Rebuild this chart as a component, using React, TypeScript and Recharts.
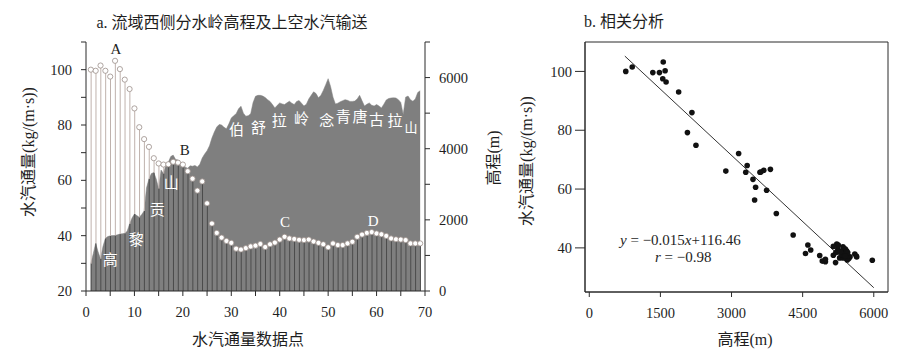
import React from "react";
import {
  Area,
  Bar,
  ComposedChart,
  ReferenceArea,
  ReferenceDot,
  ReferenceLine,
  Scatter,
  ScatterChart,
  XAxis,
  YAxis,
} from "recharts";

const FONT = '"Liberation Serif", "Noto Sans CJK SC", serif';
const AXIS_COLOR = "#2b2b2b";
const TEXT_COLOR = "#1e1e1e";
const AREA_COLOR = "#7f7f7f";
const STEM_LIGHT = "#bfb2ad";
const STEM_DARK = "#4b4b4b";
const DOT_EDGE = "#9a8e89";
const RIDGE_TEXT = "#ffffff";

// panel a: vapour flux at data points 1..69, kg/(m·s)
const vapour = [
  100, 99.6, 101.5, 99.6, 97.5, 103.2, 100.2, 96.4, 93, 86,
  79.2, 74.9, 72.1, 68, 66.1, 65.7, 65.8, 66.7, 66.4, 65.7,
  63.3, 60.6, 56.3, 59.6, 51.7, 44.4, 41, 39.3, 38.1, 37.4,
  35.3, 35, 35.5, 36.1, 36.4, 37, 35.9, 36.9, 37.5, 38.6,
  39.6, 39, 38.8, 38.5, 38.4, 38.6, 37.9, 37.4, 36.9, 35.8,
  37.2, 36.6, 36.6, 37.2, 37.8, 39.6, 40.4, 41, 41.3, 40.8,
  40.5, 39.9, 39, 38.7, 38.6, 38.4, 37.2, 37.2, 37.2,
];

// ridge elevation (m), one value every half data point from 1 to 69
const elevation = [
  770, 1050, 1340, 1100, 906, 1250, 1480, 1530, 1550, 1560,
  1560, 1580, 1600, 1610, 1620, 1680, 1885, 2050, 2165, 2120,
  2070, 2150, 2250, 2900, 3150, 3300, 3330, 3150, 2880, 3400,
  3300, 3550, 3620, 3780, 3820, 3700, 3680, 3580, 3600, 3480,
  3453, 3520, 3508, 3530, 3487, 3560, 3740, 3850, 3945, 4080,
  4300, 4470, 4610, 4680, 4670, 4600, 4560, 4700, 4860, 4930,
  4980, 5120, 5194, 5000, 4914, 4930, 4980, 5300, 5474, 5500,
  5500, 5480, 5440, 5380, 5330, 5240, 5147, 5220, 5287, 5260,
  5241, 5290, 5334, 5280, 5241, 5330, 5353, 5280, 5200, 5250,
  5400, 5500, 5600, 5550, 5430, 5500, 5640, 5800, 5969, 5750,
  5450, 5260, 5280, 5320, 5350, 5380, 5360, 5330, 5330, 5340,
  5400, 5500, 5350, 5200, 5250, 5287, 5220, 5200, 5241, 5200,
  5147, 5250, 5370, 5410, 5426, 5430, 5426, 5380, 5300, 4962,
  5450, 5480, 5380, 5334, 5400, 5580, 5633,
];

const xTicksA = [0, 5, 10, 15, 20, 25, 30, 35, 40, 45, 50, 55, 60, 65, 70];
const leftTicks = [20, 30, 40, 50, 60, 70, 80, 90, 100, 110];
const rightTicks = [0, 1000, 2000, 3000, 4000, 5000, 6000, 7000];
const xTicksB = [0, 1500, 3000, 4500, 6000];
const yTicksB = [40, 60, 80, 100];

const LEFT_MIN = 20;
const LEFT_MAX = 110;
const RIGHT_MAX = 7000;

// point labels (data coords of panel a)
const pointLabels = [
  { text: "A", x: 6.2, y: 107.7, color: TEXT_COLOR },
  { text: "B", x: 20.4, y: 71.2, color: TEXT_COLOR },
  { text: "C", x: 41.1, y: 44.9, color: "#ffffff" },
  { text: "D", x: 59.3, y: 45.5, color: "#ffffff" },
];

const ridgeLabels = [
  { text: "高", x: 5, y: 31.4, size: 15 },
  { text: "黎", x: 10.4, y: 38.6, size: 15 },
  { text: "贡", x: 14.7, y: 49.5, size: 15 },
  { text: "山", x: 17.6, y: 59.2, size: 15 },
  { text: "伯", x: 31.1, y: 78.3, size: 15 },
  { text: "舒", x: 35.6, y: 79.1, size: 15 },
  { text: "拉", x: 39.9, y: 81.4, size: 15 },
  { text: "岭", x: 44.5, y: 82.3, size: 15 },
  { text: "念", x: 49.7, y: 81.7, size: 15 },
  { text: "青", x: 53.1, y: 82.9, size: 15 },
  { text: "唐", x: 56.6, y: 82.9, size: 15 },
  { text: "古", x: 60.0, y: 81.9, size: 15 },
  { text: "拉", x: 63.8, y: 81.4, size: 15 },
  { text: "山", x: 67.1, y: 79.1, size: 13 },
];

// linear fit shown in panel b
const SLOPE = -0.015;
const INTERCEPT = 116.46;
const FIT_FROM = 750;
const FIT_TO = 6000;

const profile = elevation.map((e, k) => {
  const row: any = { x: 1 + k / 2, elev: e };
  if (k % 2 === 0) {
    const v = vapour[k / 2];
    const elevOnLeft = LEFT_MIN + (e / RIGHT_MAX) * (LEFT_MAX - LEFT_MIN);
    row.vapour = v;
    row.split = Math.min(v, elevOnLeft);
  }
  return row;
});
const vapourPts = profile.filter((r) => r.vapour !== undefined);
const scatterPts = vapourPts.map((r) => ({ elev: r.elev, vapour: r.vapour }));

const tickStyle = { fontSize: 14.5, fill: TEXT_COLOR, fontFamily: FONT };

// stem: dark inside the ridge area, light above it
const Stem = (props: any) => {
  const { x, y, width, height, payload } = props;
  if (!payload || payload.vapour === undefined) return null;
  if (!Number.isFinite(y) || !Number.isFinite(height)) return null;
  const cx = x + width / 2;
  const bottom = y + height;
  const frac = (payload.split - LEFT_MIN) / (payload.vapour - LEFT_MIN);
  const mid = bottom - frac * height;
  return (
    <g>
      <line x1={cx} x2={cx} y1={bottom} y2={mid} stroke={STEM_DARK} strokeWidth={1} />
      <line x1={cx} x2={cx} y1={mid} y2={y} stroke={STEM_LIGHT} strokeWidth={1} />
    </g>
  );
};

const OpenDot = (p: any) => (
  <circle cx={p.cx} cy={p.cy} r={2.6} fill="#ffffff" stroke={DOT_EDGE} strokeWidth={0.8} />
);

const SolidDot = (p: any) => <circle cx={p.cx} cy={p.cy} r={2.8} fill="#111111" />;

const Txt = ({ x, y, rot, size = 16, left, children }: any) => (
  <div
    style={{
      position: "absolute",
      left: x,
      top: y,
      transform: `translate(${left ? "0" : "-50%"},-50%)${rot ? " rotate(-90deg)" : ""}`,
      whiteSpace: "nowrap",
      fontSize: size,
      lineHeight: 1,
      color: TEXT_COLOR,
    }}
  >
    {children}
  </div>
);

export default function App() {
  return (
    <div
      style={{
        position: "absolute",
        left: 0,
        top: 0,
        width: 920,
        height: 358,
        background: "#fff",
        fontFamily: FONT,
        overflow: "hidden",
      }}
    >
      <div style={{ position: "absolute", left: 0, top: 0 }}>
        <ComposedChart
          width={920}
          height={358}
          data={profile}
          style={{ fontFamily: FONT }}
          margin={{ top: 42, right: 435, bottom: 37, left: 36 }}
        >
          <XAxis
            dataKey="x"
            type="number"
            domain={[0, 70]}
            ticks={xTicksA}
            interval={0}
            tickFormatter={(v: number) => (v % 10 === 0 ? String(v) : "")}
            tick={tickStyle}
            tickSize={5}
            tickMargin={11}
            height={30}
            axisLine={{ stroke: AXIS_COLOR }}
            tickLine={{ stroke: AXIS_COLOR }}
          />
          <YAxis
            yAxisId="left"
            type="number"
            domain={[LEFT_MIN, LEFT_MAX]}
            ticks={leftTicks}
            interval={0}
            tickFormatter={(v: number) => (v % 20 === 0 ? String(v) : "")}
            tick={tickStyle}
            tickSize={5}
            tickMargin={9}
            width={50}
            axisLine={{ stroke: AXIS_COLOR }}
            tickLine={{ stroke: AXIS_COLOR }}
          />
          <YAxis
            yAxisId="right"
            orientation="right"
            type="number"
            domain={[0, RIGHT_MAX]}
            ticks={rightTicks}
            interval={0}
            tickFormatter={(v: number) => (v % 2000 === 0 ? String(v) : "")}
            tick={{ ...tickStyle, textAnchor: "start" }}
            tickSize={5}
            tickMargin={9}
            width={60}
            axisLine={{ stroke: AXIS_COLOR }}
            tickLine={{ stroke: AXIS_COLOR }}
          />
          <Area
            yAxisId="right"
            dataKey="elev"
            type="linear"
            fill={AREA_COLOR}
            fillOpacity={1}
            stroke={AREA_COLOR}
            strokeWidth={0.5}
            isAnimationActive={false}
          />
          <Bar
            yAxisId="left"
            dataKey="vapour"
            barSize={1}
            shape={<Stem />}
            isAnimationActive={false}
          />
          <Scatter
            yAxisId="left"
            data={vapourPts}
            dataKey="vapour"
            shape={<OpenDot />}
            isAnimationActive={false}
          />
          {pointLabels.map((l) => (
            <ReferenceDot
              key={l.text}
              yAxisId="left"
              x={l.x}
              y={l.y}
              r={1}
              fill="none"
              stroke="none"
              label={{
                value: l.text,
                position: "center",
                fill: l.color,
                fontSize: 15,
                fontFamily: FONT,
              }}
            />
          ))}
          {ridgeLabels.map((l, i) => (
            <ReferenceDot
              key={`ridge-${i}`}
              yAxisId="left"
              x={l.x}
              y={l.y}
              r={1}
              fill="none"
              stroke="none"
              label={{
                value: l.text,
                position: "center",
                fill: RIDGE_TEXT,
                fontSize: l.size,
                fontFamily: FONT,
              }}
            />
          ))}
        </ComposedChart>
      </div>

      <div style={{ position: "absolute", left: 0, top: 0 }}>
        <ScatterChart
          width={920}
          height={358}
          style={{ fontFamily: FONT }}
          margin={{ top: 42, right: 32, bottom: 36, left: 540 }}
        >
          <XAxis
            dataKey="elev"
            type="number"
            domain={[-90, 6300]}
            ticks={xTicksB}
            interval={0}
            tick={tickStyle}
            tickSize={5}
            tickMargin={11}
            height={30}
            axisLine={{ stroke: AXIS_COLOR }}
            tickLine={{ stroke: AXIS_COLOR }}
          />
          <YAxis
            dataKey="vapour"
            type="number"
            domain={[25, 110]}
            ticks={yTicksB}
            interval={0}
            tick={tickStyle}
            tickSize={10}
            tickMargin={3}
            width={45}
            axisLine={{ stroke: AXIS_COLOR }}
            tickLine={{ stroke: AXIS_COLOR }}
          />
          <ReferenceArea
            x1={-90}
            x2={6300}
            y1={25}
            y2={110}
            fill="none"
            stroke={AXIS_COLOR}
            strokeWidth={1}
          />
          <ReferenceLine
            segment={[
              { x: FIT_FROM, y: SLOPE * FIT_FROM + INTERCEPT },
              { x: FIT_TO, y: SLOPE * FIT_TO + INTERCEPT },
            ]}
            stroke="#333333"
            strokeWidth={1}
          />
          <Scatter
            data={scatterPts}
            shape={<SolidDot />}
            isAnimationActive={false}
          />
        </ScatterChart>
      </div>

      <Txt x={232} y={23}>a. 流域西侧分水岭高程及上空水汽输送</Txt>
      <Txt x={584} y={22} left>
        b. 相关分析
      </Txt>
      <Txt x={29} y={152} rot>
        水汽通量(kg/(m·s))
      </Txt>
      <Txt x={494} y={158} rot>
        高程(m)
      </Txt>
      <Txt x={527} y={161} rot>
        水汽通量(kg/(m·s))
      </Txt>
      <Txt x={248} y={340}>
        水汽通量数据点
      </Txt>
      <Txt x={745} y={340}>
        高程(m)
      </Txt>
      <Txt x={620} y={240} size={15} left>
        <i>y</i> = −0.015<i>x</i>+116.46
      </Txt>
      <Txt x={655} y={257} size={15} left>
        <i>r</i> = −0.98
      </Txt>
    </div>
  );
}
